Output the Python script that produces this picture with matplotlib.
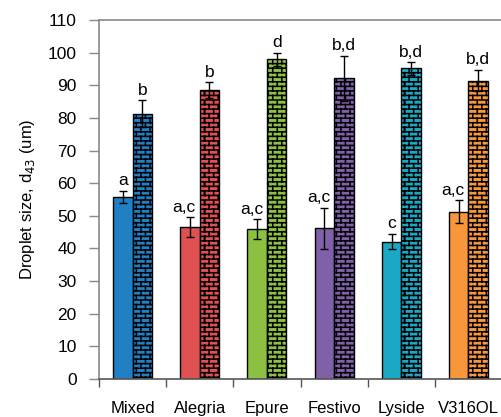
import numpy as np
import matplotlib
matplotlib.use("Agg")
import matplotlib.pyplot as plt
from matplotlib import hatch as mhatch
from matplotlib.path import Path
import warnings

warnings.filterwarnings("ignore")

categories = ["Mixed", "Alegria", "Epure", "Festivo", "Lyside", "V316OL"]
plain_vals = [55.8, 46.5, 45.9, 46.2, 42.1, 51.3]
plain_err = [1.8, 3.0, 3.0, 6.3, 2.4, 3.5]
brick_vals = [81.3, 88.5, 97.9, 92.1, 95.2, 91.4]
brick_err = [4.1, 2.4, 2.0, 7.0, 1.9, 3.3]
plain_labels = ["a", "a,c", "a,c", "a,c", "c", "a,c"]
brick_labels = ["b", "b", "d", "b,d", "b,d", "b,d"]
colors = ["#2180c4", "#e05151", "#8cc040", "#8060a8", "#1aa8c4", "#f7963a"]


class BrickHatch(mhatch.HatchPatternBase):
    rows = 22
    cols = 11

    def __init__(self, hatch, density):
        self.on = hatch.count('b') > 0
        if self.on:
            self.num_vertices = 2 * (self.rows + 1) + 2 * self.rows * (self.cols + 1)
        else:
            self.num_vertices = 0

    def set_vertices_and_codes(self, vertices, codes):
        verts = []
        for i in range(self.rows + 1):
            y = i / self.rows
            verts += [(0.0, y), (1.0, y)]
        for i in range(self.rows):
            y0 = i / self.rows
            y1 = (i + 1) / self.rows
            off = 0.5 / self.cols if i % 2 else 0.0
            for k in range(self.cols + 1):
                xx = k / self.cols + off
                if xx > 1.0:
                    xx -= 1.0
                verts += [(xx, y0), (xx, y1)]
        verts = np.array(verts)
        vertices[:len(verts)] = verts
        codes[:len(verts)] = np.tile([Path.MOVETO, Path.LINETO], len(verts) // 2)


mhatch._hatch_types.append(BrickHatch)
plt.rcParams['hatch.linewidth'] = 1.1

plt.rcParams['font.family'] = ['Liberation Sans', 'DejaVu Sans']
plt.rcParams['font.size'] = 12

fig = plt.figure(figsize=(5.01, 4.17), dpi=100)
ax = fig.add_axes([99 / 501, 1 - 379 / 417, 1 - 99 / 501 + 0.002, 359 / 417])

x = np.arange(len(categories))
w = 0.29
ekw = dict(elinewidth=1.0, capsize=3, capthick=1.0, ecolor="black")
ax.bar(x - w / 2, plain_vals, w, color=colors, edgecolor="black", linewidth=1.0,
       yerr=plain_err, error_kw=ekw, zorder=2)
ax.bar(x + w / 2, brick_vals, w, color=colors, edgecolor="black", linewidth=1.0,
       hatch='b', yerr=brick_err, error_kw=ekw, zorder=2)

gap = 1.7
for i in range(len(categories)):
    shift = -0.085 if ',' in plain_labels[i] else 0.0
    ax.text(x[i] - w / 2 + shift, plain_vals[i] + plain_err[i] + gap, plain_labels[i],
            ha='center', va='baseline', fontsize=12.5)
    ax.text(x[i] + w / 2, brick_vals[i] + brick_err[i] + gap, brick_labels[i],
            ha='center', va='baseline', fontsize=12.5)

ax.set_xlim(-0.5, 5.5)
ax.set_ylim(0, 110)
ax.set_yticks(np.arange(0, 111, 10))
ax.set_xticks(np.arange(-0.5, 5.0, 1.0))
ax.set_xticklabels([])
ax.set_xticks(x, minor=True)
ax.set_xticklabels(categories, minor=True)
ax.tick_params(axis='x', which='minor', length=0, pad=16)
ax.tick_params(axis='x', which='major', length=6, direction='out', color='#555555', width=1.0)
ax.tick_params(axis='y', length=7, direction='out', color='#888888', width=1.0, pad=9)
ax.tick_params(labelsize=12.5)

for s in ['left', 'top', 'bottom']:
    ax.spines[s].set_color('#888888')
    ax.spines[s].set_linewidth(1.2)
ax.spines['bottom'].set_color('#555555')
ax.spines['right'].set_visible(False)

ax.set_ylabel("Droplet size, d$_{43}$ (um)", fontsize=12, labelpad=8)

fig.savefig("out.png", dpi=100)
